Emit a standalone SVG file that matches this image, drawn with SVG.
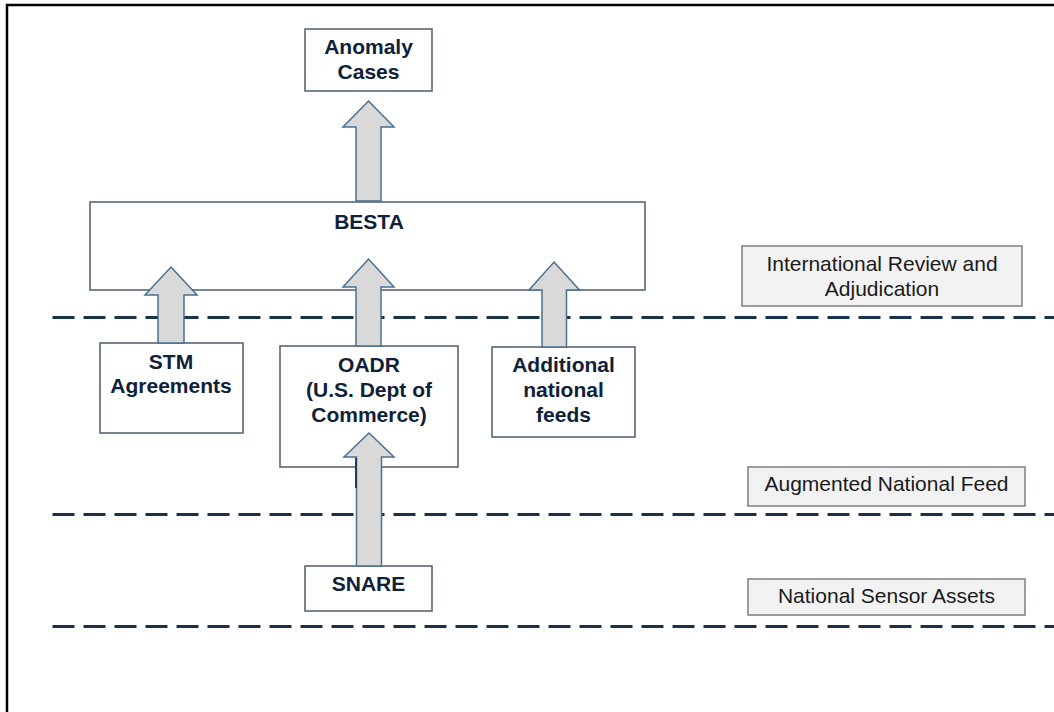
<svg xmlns="http://www.w3.org/2000/svg" width="1054" height="712" viewBox="0 0 1054 712">
  <style>
    .frame { stroke: #000; stroke-width: 2.5; fill: none; }
    .tier { stroke: #1b324b; stroke-width: 3; stroke-dasharray: 22 9; fill: none; }
    .box { fill: #fff; stroke: #4e5c6c; stroke-width: 1.5; }
    .legend { fill: #f2f2f2; stroke: #7a7f85; stroke-width: 1.5; }
    .lbl { font-family: "Liberation Sans", Arial, sans-serif; font-size: 21px; font-weight: bold; fill: #0f2138; text-anchor: middle; }
    .leg { font-family: "Liberation Sans", Arial, sans-serif; font-size: 21px; fill: #1a1a1a; text-anchor: middle; }
    .flow { fill: #d9d9d9; stroke: #4a7092; stroke-width: 1.5; stroke-linejoin: miter; }
    .edge { stroke: #1f3d5c; stroke-width: 2; }
  </style>

  <!-- outer frame (top and left edges) -->
  <path class="frame" d="M7,712 V5 H1054"/>

  <!-- tier separators -->
  <g id="tiers">
    <line class="tier" x1="52.5" y1="317.5" x2="1054" y2="317.5"/>
    <line class="tier" x1="52.5" y1="514.5" x2="1054" y2="514.5"/>
    <line class="tier" x1="52.5" y1="626.5" x2="1054" y2="626.5"/>
  </g>

  <!-- tier legends -->
  <g id="legend-international">
    <rect class="legend" x="742" y="246" width="280" height="60"/>
    <text class="leg" x="882" y="271">International Review and</text>
    <text class="leg" x="882" y="296">Adjudication</text>
  </g>
  <g id="legend-augmented">
    <rect class="legend" x="748" y="467" width="277" height="39"/>
    <text class="leg" x="886.5" y="491">Augmented National Feed</text>
  </g>
  <g id="legend-sensor">
    <rect class="legend" x="748" y="579" width="277" height="36"/>
    <text class="leg" x="886.5" y="603">National Sensor Assets</text>
  </g>

  <!-- nodes -->
  <g id="anomaly-cases">
    <rect class="box" x="305" y="29" width="127" height="62"/>
    <text class="lbl" x="368.5" y="54">Anomaly</text>
    <text class="lbl" x="368.5" y="79">Cases</text>
  </g>
  <g id="besta">
    <rect class="box" x="90" y="202" width="555" height="88"/>
    <text class="lbl" x="369" y="229">BESTA</text>
  </g>
  <g id="stm">
    <rect class="box" x="100" y="343" width="143" height="90"/>
    <text class="lbl" x="171" y="369">STM</text>
    <text class="lbl" x="171" y="393">Agreements</text>
  </g>
  <g id="oadr">
    <rect class="box" x="280" y="346" width="178" height="121"/>
    <text class="lbl" x="369" y="372">OADR</text>
    <text class="lbl" x="369" y="397">(U.S. Dept of</text>
    <text class="lbl" x="369" y="422">Commerce)</text>
  </g>
  <g id="additional-feeds">
    <rect class="box" x="492" y="347" width="143" height="90"/>
    <text class="lbl" x="563.5" y="372">Additional</text>
    <text class="lbl" x="563.5" y="397">national</text>
    <text class="lbl" x="563.5" y="422">feeds</text>
  </g>
  <g id="snare">
    <rect class="box" x="305" y="566" width="127" height="45"/>
    <text class="lbl" x="368.5" y="591">SNARE</text>
  </g>

  <!-- block arrows between tiers -->
  <g id="connectors">
    <path class="flow" d="M368.5,101 L394,127 L381,127 L381,201 L356,201 L356,127 L343,127 Z"/>
    <path class="flow" d="M171,267 L197,295 L184,295 L184,343 L158,343 L158,295 L145,295 Z"/>
    <path class="flow" d="M368.5,259 L394,287 L381,287 L381,346 L356,346 L356,287 L343,287 Z"/>
    <path class="flow" d="M554,262 L579.5,290 L566.5,290 L566.5,347 L542,347 L542,290 L529,290 Z"/>
    <path class="flow" d="M369,433 L394,457 L381.5,457 L381.5,566 L356.5,566 L356.5,457 L344,457 Z"/>
    <line class="edge" x1="356" y1="458" x2="356" y2="488"/>
  </g>
</svg>
